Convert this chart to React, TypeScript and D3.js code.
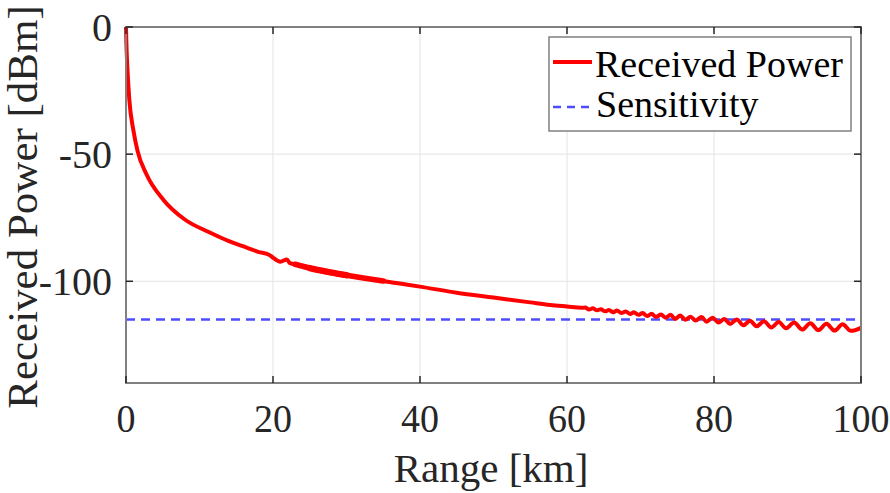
import React from "react";
import * as d3 from "d3";

const xTicks = [0, 20, 40, 60, 80, 100];
const yTicks = [0, -50, -100];

const rangeKm = [
  0, 0.05, 0.18, 0.45, 1.0, 1.55, 2.8, 5.1, 8.0, 11.4, 14.0, 15.9, 18.0, 19.6, 20.0, 21.0, 21.9, 22.3,
  23.0, 25.0, 27.8, 30.0, 32.5, 35.0, 37.5, 40.0, 45.0, 50.0, 55.0, 57.7, 60.0, 62.0,
  62.5, 63.0, 63.5, 64.1, 64.6, 65.2, 65.7, 66.3, 66.8, 67.4, 68.0, 68.6, 69.1, 69.7,
  70.3, 70.9, 71.5, 72.1, 72.8, 73.4, 74.1, 74.7, 75.4, 76.1, 76.8, 77.5, 78.3, 79.0, 79.8,
  80.6, 81.4, 82.2, 83.1, 84.0, 84.9, 85.8, 86.8, 87.8, 88.8, 89.8, 90.9, 92.0, 93.1, 94.2,
  95.3, 96.4, 97.5, 98.6, 100.0,
];
const powerDbm = [
  0, -6, -15.6, -28.6, -40.5, -48.5, -58.0, -68.0, -75.7, -80.8, -84.2, -86.2, -88.4, -89.8, -90.7, -92.3, -91.4, -92.9,
  -93.3, -94.8, -96.5, -97.6, -98.8, -99.9, -101.0, -102.1, -104.5, -106.4, -108.3, -109.3, -109.9, -110.4,
  -110.35, -111.1, -110.65, -111.4, -111.0, -111.8, -111.3, -112.2, -111.5, -112.5, -111.9, -112.9, -112.2, -113.2,
  -112.5, -113.7, -112.8, -114.0, -113.1, -114.3, -113.2, -114.8, -113.5, -115.1, -113.9, -115.4, -114.0, -115.9, -114.3,
  -116.2, -114.8, -116.8, -115.0, -117.3, -115.5, -117.7, -115.7, -118.2, -116.0, -118.5, -116.2, -119.0, -116.5, -119.2,
  -116.7, -119.4, -116.9, -119.5, -118.3,
];
const sensitivityDbm = -115;
const noisyBandOuterKm = [22.8, 36];
const noisyBandInnerKm = [24.5, 32];

const seriesNames = ["Received Power", "Sensitivity"];

const W = 890;
const H = 493;
const PL = 126, PR = 861, PT = 27, PB = 383;

export default function App() {
  const x = d3.scaleLinear().domain([0, 100]).range([PL, PR]);
  const y = d3.scaleLinear().domain([-140, 0]).range([PB, PT]);
  const pts = rangeKm.map((r, i) => [r, powerDbm[i]] as [number, number]);
  const line = d3
    .line<[number, number]>()
    .x((d) => x(d[0]))
    .y((d) => y(d[1]))
    .curve(d3.curveMonotoneX);
  const sub = (lo: number, hi: number) => pts.filter((p) => p[0] >= lo && p[0] <= hi);
  const fontStyle = { fontFamily: '"Liberation Serif", "DejaVu Serif", serif' };
  const axisCol = "#808080";
  const tickCol = "#262626";
  const blue = "#4d4dff";
  const red = "#ff0000";

  return (
    <svg
      width={W}
      height={H}
      style={{ position: "absolute", left: 0, top: 0, background: "#fff", ...fontStyle }}
    >
      <rect x={0} y={0} width={W} height={H} fill="#fff" />
      {xTicks.slice(1, -1).map((t) => (
        <line key={"gx" + t} x1={x(t)} x2={x(t)} y1={PT} y2={PB} stroke="#e3e3e3" strokeWidth={1} />
      ))}
      {yTicks.slice(1).map((t) => (
        <line key={"gy" + t} x1={PL} x2={PR} y1={y(t)} y2={y(t)} stroke="#e3e3e3" strokeWidth={1} />
      ))}
      <line
        x1={PL}
        x2={PR}
        y1={y(sensitivityDbm)}
        y2={y(sensitivityDbm)}
        stroke={blue}
        strokeWidth={2.5}
        strokeDasharray="9,6"
      />
      <path d={line(pts) || ""} fill="none" stroke={red} strokeWidth={4} strokeLinejoin="round" />
      <path
        d={line(sub(noisyBandOuterKm[0], noisyBandOuterKm[1])) || ""}
        fill="none"
        stroke={red}
        strokeWidth={5.5}
        strokeLinejoin="round"
        strokeLinecap="round"
      />
      <path
        d={line(sub(noisyBandInnerKm[0], noisyBandInnerKm[1])) || ""}
        fill="none"
        stroke={red}
        strokeWidth={6.5}
        strokeLinejoin="round"
        strokeLinecap="round"
      />
      <rect x={PL} y={PT} width={PR - PL} height={PB - PT} fill="none" stroke={axisCol} strokeWidth={2} />
      {xTicks.map((t) => (
        <g key={"tx" + t}>
          <line x1={x(t)} x2={x(t)} y1={PB} y2={PB - 7} stroke={tickCol} strokeWidth={1.5} />
          <line x1={x(t)} x2={x(t)} y1={PT} y2={PT + 7} stroke={tickCol} strokeWidth={1.5} />
          <text
            transform={`translate(${x(t)},432) scale(0.95,1)`}
            textAnchor="middle"
            style={fontStyle}
            fontSize={40}
            fill="#262626"
          >
            {t}
          </text>
        </g>
      ))}
      {yTicks.map((t) => (
        <g key={"ty" + t}>
          <line x1={PL} x2={PL + 7} y1={y(t)} y2={y(t)} stroke={tickCol} strokeWidth={1.5} />
          <line x1={PR} x2={PR - 7} y1={y(t)} y2={y(t)} stroke={tickCol} strokeWidth={1.5} />
          <text
            transform={`translate(112,${y(t) + 13.5})`}
            textAnchor="end"
            style={fontStyle}
            fontSize={40}
            fill="#262626"
          >
            {t}
          </text>
        </g>
      ))}
      <text x={491} y={482} textAnchor="middle" style={fontStyle} fontSize={41} fill="#262626">
        Range [km]
      </text>
      <text
        transform="translate(37,207) rotate(-90)"
        textAnchor="middle"
        style={fontStyle}
        fontSize={43}
        fill="#262626"
      >
        Received Power [dBm]
      </text>
      <rect x={549} y={37} width={302} height={94} fill="#fff" stroke={axisCol} strokeWidth={1.5} />
      <line x1={553} x2={592} y1={62} y2={62} stroke={red} strokeWidth={4} />
      <line x1={553} x2={592} y1={107} y2={107} stroke={blue} strokeWidth={2.5} strokeDasharray="8,6" />
      <text x={595} y={77} style={fontStyle} fontSize={38} fill="#000">
        {seriesNames[0]}
      </text>
      <text x={596} y={117} style={fontStyle} fontSize={38} fill="#000">
        {seriesNames[1]}
      </text>
    </svg>
  );
}
